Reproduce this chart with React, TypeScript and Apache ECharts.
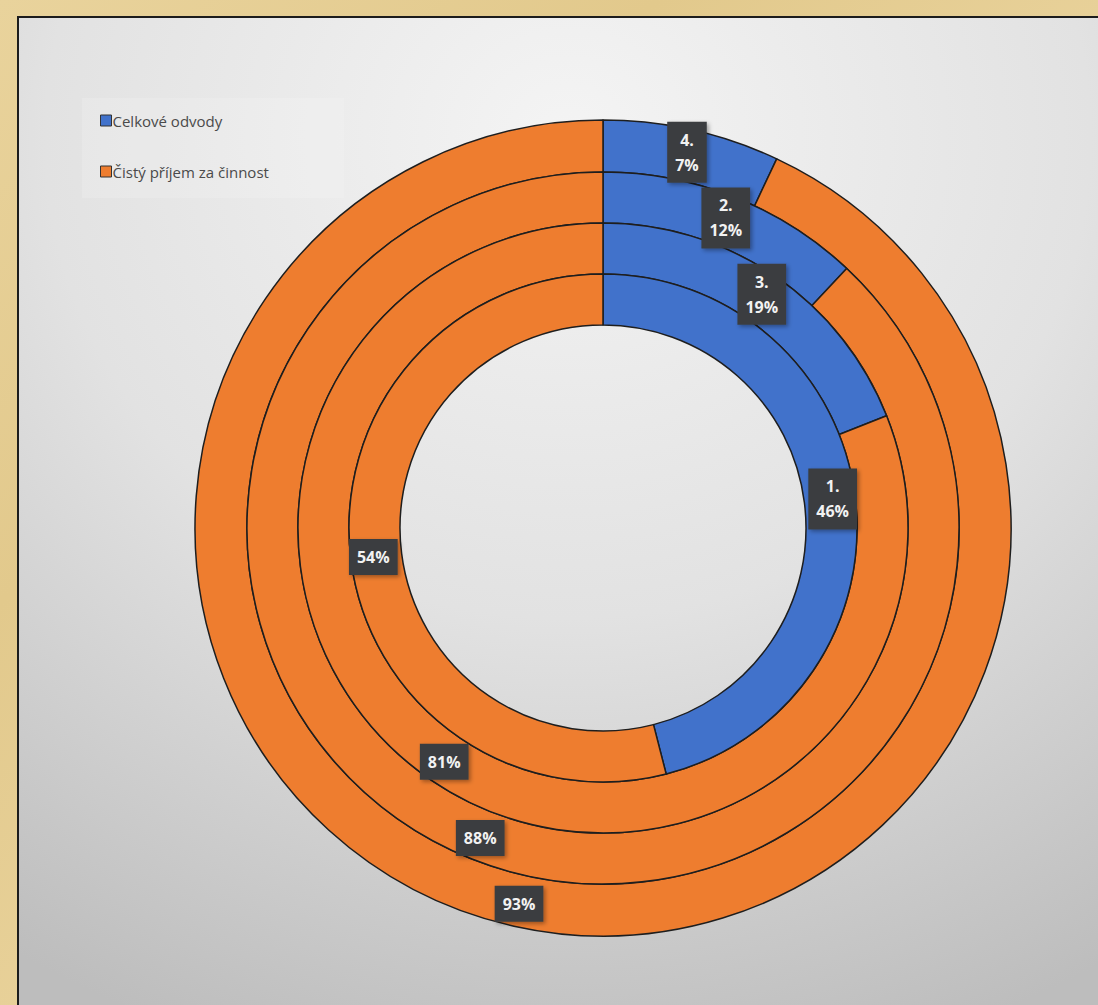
import React, { useEffect, useRef } from "react";
import * as echarts from "echarts";

// Rings from outside to inside
const ranks = ["4", "2", "3", "1"];
const odvody = [7, 12, 19, 46];
const prijem = [93, 88, 81, 54];
const legendNames = ["Celkové odvody", "Čistý příjem za činnost"];
const colors = ["#4172CB", "#EE7D2F"];

const radii: [number, number][] = [
  [356, 408],
  [305, 356],
  [254, 305],
  [203, 254],
];

export default function App() {
  const ref = useRef<HTMLDivElement>(null);
  useEffect(() => {
    if (!ref.current) return;
    const chart = echarts.init(ref.current, null, { renderer: "svg" });
    const labelStyle = {
      show: true,
      position: "inside",
      color: "#f2f2f2",
      fontWeight: "bold",
      fontSize: 16,
      fontFamily: "Open Sans",
      lineHeight: 25,
      backgroundColor: "#3a3d40",
      padding: [6, 8, 5, 8],
      shadowColor: "rgba(0,0,0,0.35)",
      shadowBlur: 4,
      shadowOffsetX: 2,
      shadowOffsetY: 2,
    };
    const series = ranks.map((rk, i) => ({
      type: "pie",
      name: "ring" + rk,
      center: [603, 528],
      radius: radii[i],
      startAngle: 90,
      clockwise: true,
      avoidLabelOverlap: false,
      emphasis: { disabled: true },
      itemStyle: { borderColor: "#1e1e1e", borderWidth: 1.5 },
      label: {
        ...labelStyle,
        formatter: (p: any) =>
          p.dataIndex === 0 ? `${rk}.\n${p.value}%` : `${p.value}%`,
      },
      labelLine: { show: false },
      data: [
        { name: legendNames[0], value: odvody[i], itemStyle: { color: colors[0] } },
        { name: legendNames[1], value: prijem[i], itemStyle: { color: colors[1] } },
      ],
    }));
    chart.setOption({
      animation: false,
      graphic: [
        {
          type: "rect",
          z: -10,
          silent: true,
          shape: { x: 0, y: 0, width: 1098, height: 1005 },
          style: {
            fill: new echarts.graphic.LinearGradient(0, 0, 1, 1, [
              { offset: 0, color: "#e9d39c" },
              { offset: 0.3, color: "#e2c98c" },
              { offset: 0.6, color: "#ead49e" },
              { offset: 1, color: "#dfc487" },
            ]),
          },
        },
        {
          type: "rect",
          z: -9,
          silent: true,
          shape: { x: 18, y: 17, width: 1100, height: 1010 },
          style: {
            fill: new echarts.graphic.RadialGradient(0.5, 0.12, 0.95, [
              { offset: 0, color: "#f4f4f4" },
              { offset: 0.5, color: "#e2e2e2" },
              { offset: 1, color: "#bdbdbd" },
            ]),
            stroke: "#1c1c1c",
            lineWidth: 2,
          },
        },
        {
          type: "rect",
          z: -8,
          silent: true,
          shape: { x: 82, y: 98, width: 262, height: 100 },
          style: { fill: "rgba(255,255,255,0.15)" },
        },
      ],
      legend: {
        orient: "vertical",
        left: 95,
        top: 108,
        itemGap: 36,
        icon: "rect",
        itemWidth: 11,
        itemHeight: 11,
        data: legendNames,
        itemStyle: { borderColor: "#333", borderWidth: 1 },
        textStyle: { color: "#4a4a4a", fontSize: 15, fontFamily: "Open Sans", padding: [0, 0, 0, -4] },
      },
      series,
    });
    return () => chart.dispose();
  }, []);
  return (
    <div
      ref={ref}
      style={{ position: "absolute", left: 0, top: 0, width: 1098, height: 1005 }}
    />
  );
}
